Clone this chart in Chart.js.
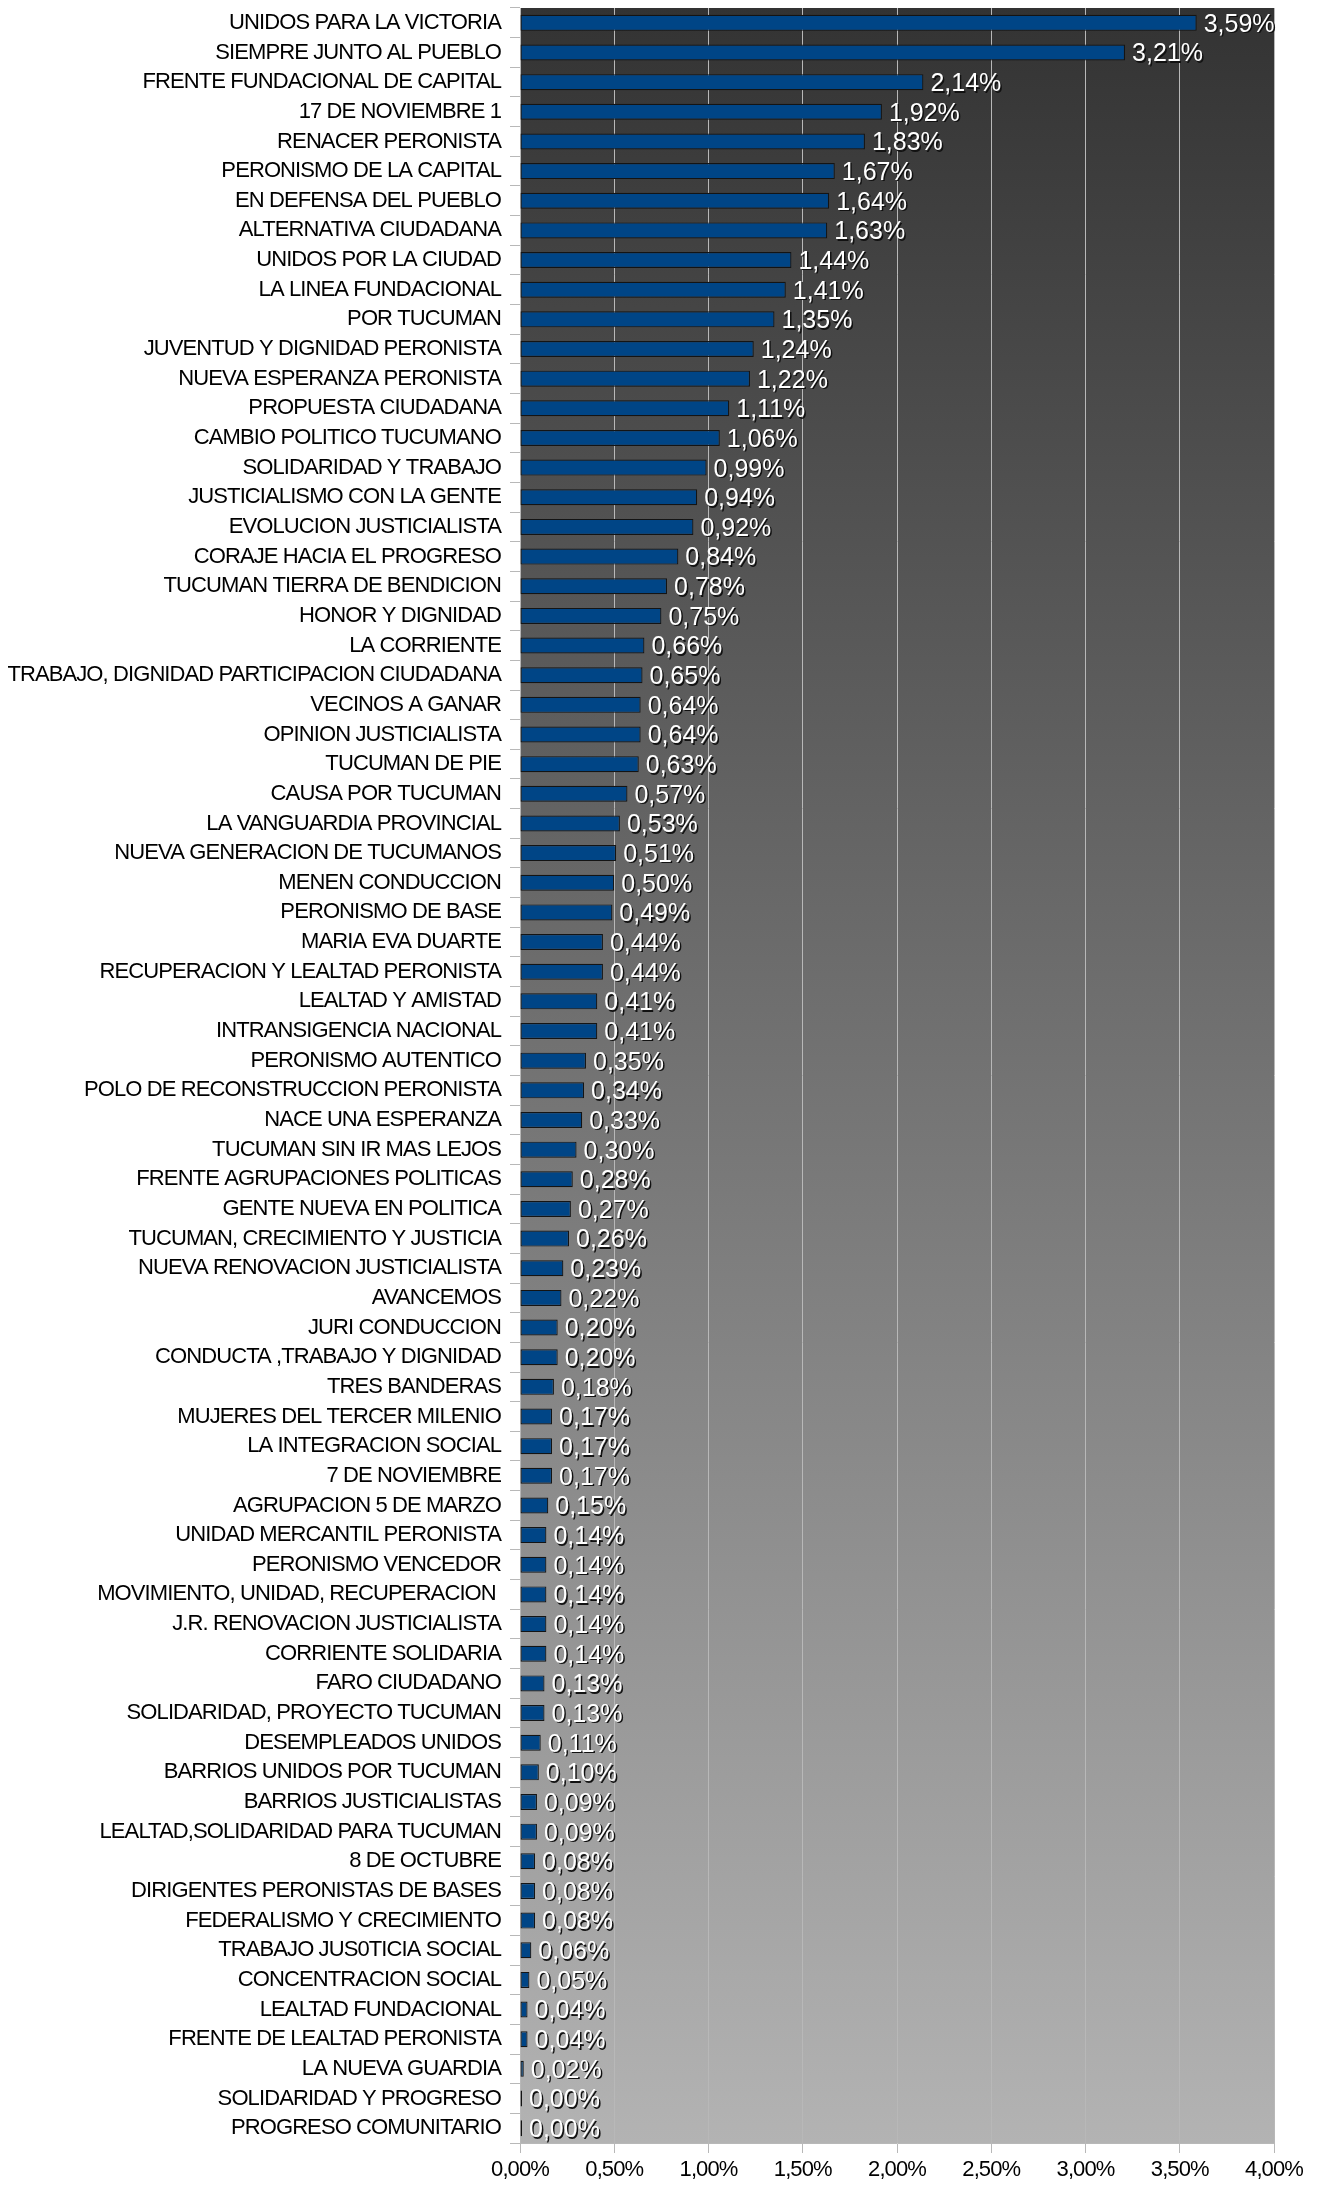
<!DOCTYPE html>
<html>
<head>
<meta charset="utf-8">
<script src="https://cdn.jsdelivr.net/npm/chart.js@4"></script>
<style>
html,body{margin:0;padding:0;background:#fff;}
#wrap{width:1320px;height:2188px;position:relative;}
</style>
</head>
<body>
<div id="wrap"><canvas id="c"></canvas></div>
<script>
const categories = [
"UNIDOS PARA LA VICTORIA","SIEMPRE JUNTO AL PUEBLO","FRENTE FUNDACIONAL DE CAPITAL","17 DE NOVIEMBRE 1",
"RENACER PERONISTA","PERONISMO DE LA CAPITAL","EN DEFENSA DEL PUEBLO","ALTERNATIVA CIUDADANA",
"UNIDOS POR LA CIUDAD","LA LINEA FUNDACIONAL","POR TUCUMAN","JUVENTUD Y DIGNIDAD PERONISTA",
"NUEVA ESPERANZA PERONISTA","PROPUESTA CIUDADANA","CAMBIO POLITICO TUCUMANO","SOLIDARIDAD Y TRABAJO",
"JUSTICIALISMO CON LA GENTE","EVOLUCION JUSTICIALISTA","CORAJE HACIA EL PROGRESO","TUCUMAN TIERRA DE BENDICION",
"HONOR Y DIGNIDAD","LA CORRIENTE","TRABAJO, DIGNIDAD PARTICIPACION CIUDADANA","VECINOS A GANAR",
"OPINION JUSTICIALISTA","TUCUMAN DE PIE","CAUSA POR TUCUMAN","LA VANGUARDIA PROVINCIAL",
"NUEVA GENERACION DE TUCUMANOS","MENEN CONDUCCION","PERONISMO DE BASE","MARIA EVA DUARTE",
"RECUPERACION Y LEALTAD PERONISTA","LEALTAD Y AMISTAD","INTRANSIGENCIA NACIONAL","PERONISMO AUTENTICO",
"POLO DE RECONSTRUCCION PERONISTA","NACE UNA ESPERANZA","TUCUMAN SIN IR MAS LEJOS","FRENTE AGRUPACIONES POLITICAS",
"GENTE NUEVA EN POLITICA","TUCUMAN, CRECIMIENTO Y JUSTICIA","NUEVA RENOVACION JUSTICIALISTA","AVANCEMOS",
"JURI CONDUCCION","CONDUCTA ,TRABAJO Y DIGNIDAD","TRES BANDERAS","MUJERES DEL TERCER MILENIO",
"LA INTEGRACION SOCIAL","7 DE NOVIEMBRE","AGRUPACION 5 DE MARZO","UNIDAD MERCANTIL PERONISTA",
"PERONISMO VENCEDOR","MOVIMIENTO, UNIDAD, RECUPERACION ","J.R. RENOVACION JUSTICIALISTA","CORRIENTE SOLIDARIA",
"FARO CIUDADANO","SOLIDARIDAD, PROYECTO TUCUMAN","DESEMPLEADOS UNIDOS","BARRIOS UNIDOS POR TUCUMAN",
"BARRIOS JUSTICIALISTAS","LEALTAD,SOLIDARIDAD PARA TUCUMAN","8 DE OCTUBRE","DIRIGENTES PERONISTAS DE BASES",
"FEDERALISMO Y CRECIMIENTO","TRABAJO JUS0TICIA SOCIAL","CONCENTRACION SOCIAL","LEALTAD FUNDACIONAL",
"FRENTE DE LEALTAD PERONISTA","LA NUEVA GUARDIA","SOLIDARIDAD Y PROGRESO","PROGRESO COMUNITARIO"
];
const values = [
3.59,3.21,2.14,1.92,1.83,1.67,1.64,1.63,1.44,1.41,1.35,1.24,1.22,1.11,1.06,0.99,
0.94,0.92,0.84,0.78,0.75,0.66,0.65,0.64,0.64,0.63,0.57,0.53,0.51,0.50,0.49,0.44,
0.44,0.41,0.41,0.35,0.34,0.33,0.30,0.28,0.27,0.26,0.23,0.22,0.20,0.20,0.18,0.17,
0.17,0.17,0.15,0.14,0.14,0.14,0.14,0.14,0.13,0.13,0.11,0.10,0.09,0.09,0.08,0.08,
0.08,0.06,0.05,0.04,0.04,0.02,0.00,0.00
];
const xMin = 0, xMax = 4, xStep = 0.5;

const FONT = "'Liberation Sans',Arial,sans-serif";
const AXIS_SPACING = '-0.9px';
function fmt(v){ return v.toFixed(2).replace('.', ',') + '%'; }

const spacingPlugin = {
  id: 'spacing',
  beforeLayout(chart){ chart.ctx.letterSpacing = AXIS_SPACING; },
  beforeDraw(chart){ chart.ctx.letterSpacing = AXIS_SPACING; }
};

const bgPlugin = {
  id: 'bg',
  beforeDraw(chart){
    const {ctx, chartArea:a} = chart;
    const g = ctx.createLinearGradient(0, a.top, 0, a.bottom);
    g.addColorStop(0, '#333333');
    g.addColorStop(1, '#b3b3b3');
    ctx.save();
    ctx.fillStyle = g;
    ctx.fillRect(a.left, a.top, a.right - a.left, a.bottom - a.top);
    ctx.restore();
  }
};

const labelPlugin = {
  id: 'vlabels',
  afterDatasetsDraw(chart){
    const {ctx} = chart;
    const meta = chart.getDatasetMeta(0);
    ctx.save();
    ctx.letterSpacing = '0px';
    ctx.font = '25px ' + FONT;
    ctx.textAlign = 'left';
    ctx.textBaseline = 'middle';
    meta.data.forEach((el, i) => {
      const t = fmt(values[i]);
      const x = el.x + 7, y = el.y + 2;
      ctx.fillStyle = '#111';
      ctx.fillText(t, x + 1.5, y + 1.5);
      ctx.fillStyle = '#ffffff';
      ctx.fillText(t, x, y);
    });
    ctx.restore();
  }
};

new Chart(document.getElementById('c'), {
  type: 'bar',
  data: {
    labels: categories,
    datasets: [{
      data: values,
      backgroundColor: '#004586',
      borderColor: '#141414',
      borderWidth: 1.2,
      borderSkipped: false,
      barPercentage: 0.54,
      categoryPercentage: 1,
      minBarLength: 2
    }]
  },
  options: {
    indexAxis: 'y',
    responsive: true,
    maintainAspectRatio: false,
    animation: false,
    devicePixelRatio: 1,
    layout: { padding: { top: 8, right: 46, bottom: 0, left: 0 } },
    plugins: { legend: { display: false }, tooltip: { enabled: false } },
    scales: {
      x: {
        min: xMin, max: xMax,
        ticks: {
          stepSize: xStep,
          color: '#000',
          font: { size: 22, family: FONT },
          padding: 4,
          callback: v => fmt(v)
        },
        grid: { color: '#b8b8b8', lineWidth: 1, tickLength: 10, drawOnChartArea: true },
        border: { color: '#b8b8b8' },
        afterFit(s){ s.height = 45; s.paddingLeft = 0; s.paddingRight = 0; }
      },
      y: {
        ticks: {
          color: '#000',
          font: { size: 22, family: FONT },
          padding: 9,
          autoSkip: false
        },
        grid: { offset: true, drawOnChartArea: false, color: '#b8b8b8', tickLength: 10 },
        border: { color: '#b8b8b8' },
        afterFit(s){ s.width = 520; s.paddingTop = 0; s.paddingBottom = 0; }
      }
    }
  },
  plugins: [spacingPlugin, bgPlugin, labelPlugin]
});
</script>
</body>
</html>
